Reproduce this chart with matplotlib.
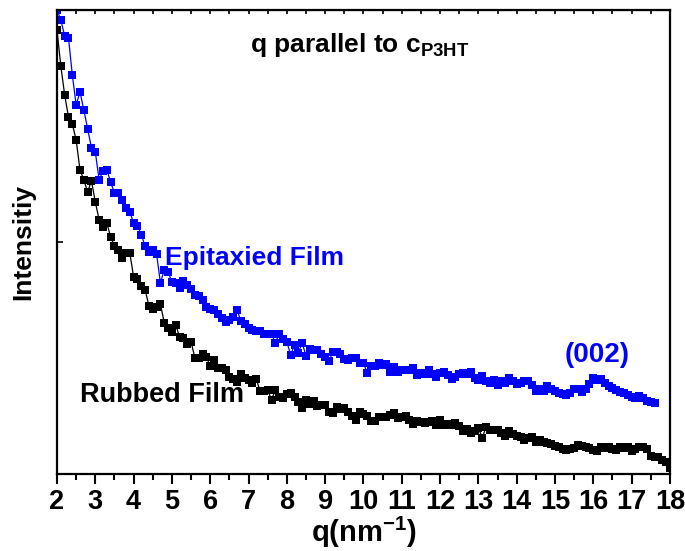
import numpy as np
import matplotlib.pyplot as plt

plt.rcParams['font.family'] = ['Liberation Sans', 'DejaVu Sans']
plt.rcParams['font.weight'] = 'bold'
plt.rcParams['mathtext.fontset'] = 'custom'
plt.rcParams['mathtext.rm'] = 'Liberation Sans:bold'
plt.rcParams['mathtext.bf'] = 'Liberation Sans:bold'
plt.rcParams['mathtext.default'] = 'bf'

# intensity in arbitrary units, q step 0.1 nm^-1 starting at 2
rubbed = [444, 408, 379, 357, 350, 334, 304, 294, 282, 293,
          272, 254, 247, 251, 237, 228, 224, 216, 221, 221,
          197, 195, 188, 184, 168, 165, 167, 170, 151, 146,
          142, 149, 137, 136, 130, 132, 116, 116, 120, 117,
          108, 114, 106, 106, 104, 97, 95, 92, 100, 96,
          94, 91, 95, 83, 83, 84, 74, 84, 77, 76,
          80, 81, 77, 72, 66, 74, 70, 73, 68, 69,
          69, 62, 61, 67, 65, 66, 62, 58, 54, 62,
          60, 58, 53, 53, 57, 57, 57, 59, 61, 56,
          57, 58, 54, 50, 53, 52, 51, 52, 53, 49,
          54, 49, 50, 49, 51, 48, 43, 45, 41, 43,
          46, 36, 47, 44, 44, 44, 41, 38, 43, 40,
          38, 37, 34, 36, 37, 32, 34, 32, 31, 30,
          28, 27, 25, 24, 25, 26, 29, 28, 27, 26,
          24, 23, 27, 26, 27, 25, 24, 27, 26, 27,
          23, 25, 27, 27, 25, 18, 17, 17, 14, 12,
          6]

epitaxied = [464, 454, 438, 436, 399, 369, 382, 364, 345, 326,
             322, 294, 303, 304, 292, 281, 281, 274, 266, 262,
             251, 248, 239, 228, 222, 224, 220, 191, 204, 202,
             192, 191, 186, 193, 189, 185, 179, 178, 174, 167,
             165, 164, 160, 156, 152, 154, 157, 164, 153, 150,
             146, 144, 143, 143, 140, 140, 140, 131, 140, 135,
             132, 119, 129, 121, 131, 118, 125, 124, 124, 120,
             117, 113, 122, 122, 120, 115, 114, 116, 116, 111,
             111, 101, 108, 108, 111, 109, 110, 102, 107, 102,
             104, 104, 104, 106, 99, 101, 100, 104, 100, 97,
             101, 102, 99, 95, 97, 100, 101, 100, 102, 96,
             94, 98, 93, 91, 94, 89, 93, 91, 96, 93,
             90, 91, 93, 93, 89, 83, 85, 83, 88, 85,
             83, 81, 80, 79, 81, 85, 85, 82, 85, 90,
             96, 94, 95, 91, 88, 86, 84, 82, 81, 79,
             77, 76, 78, 76, 73, 72, 71]

q_start = 2.0
q_step = 0.1
q_rub = q_start + q_step * np.arange(len(rubbed))
q_epi = q_start + q_step * np.arange(len(epitaxied))

fig = plt.figure(figsize=(6.85, 5.51), dpi=100)
ax = fig.add_axes([0.0832, 0.140, 0.8948, 0.842])

ax.plot(q_rub, rubbed, '-s', color='black', lw=0.9, ms=5.5, mew=0)
ax.plot(q_epi, epitaxied, '-s', color='#0000ff', lw=0.9, ms=5.5, mew=0)

ax.set_xlim(2, 18)
ax.set_ylim(0, 464)
ax.set_xticks(np.arange(2, 19, 1))
ax.set_xticks(np.arange(2.5, 18, 1), minor=True)
ax.set_yticks([0, 232, 464])
ax.set_yticklabels([])
ax.tick_params(axis='x', which='major', direction='out', length=7, width=1.5,
               pad=4, labelsize=19.5)
ax.tick_params(axis='x', which='minor', direction='out', length=4, width=1.5)
ax.tick_params(axis='y', which='major', direction='in', length=4, width=1.2)
for lab in ax.get_xticklabels():
    lab.set_fontweight('bold')

# top axis mirrored ticks pointing in
top = ax.secondary_xaxis('top')
top.set_xticks(np.arange(2, 18.5, 0.5))
top.tick_params(direction='in', length=3, width=1.2, labeltop=False)

for s in ax.spines.values():
    s.set_linewidth(1.6)

ax.set_xlabel(r'q(nm$^{\mathbf{-1}}$)', fontsize=21, fontweight='bold', labelpad=0)
ax.set_ylabel('Intensitiy', fontsize=19, fontweight='bold', labelpad=12)

ax.text(0.315, 0.925, r'q parallel to c$_{\mathbf{P3HT}}$', transform=ax.transAxes,
        fontsize=19, fontweight='bold', va='center')
ax.text(4.82, 216, 'Epitaxied Film', color='#0000ff', fontsize=19, fontweight='bold',
        va='center')
ax.text(2.6, 79, 'Rubbed Film', color='black', fontsize=19.5, fontweight='bold',
        va='center')
ax.text(15.26, 119, '(002)', color='#0000ff', fontsize=20, fontweight='bold',
        va='center')

fig.savefig('out.png', dpi=100)
